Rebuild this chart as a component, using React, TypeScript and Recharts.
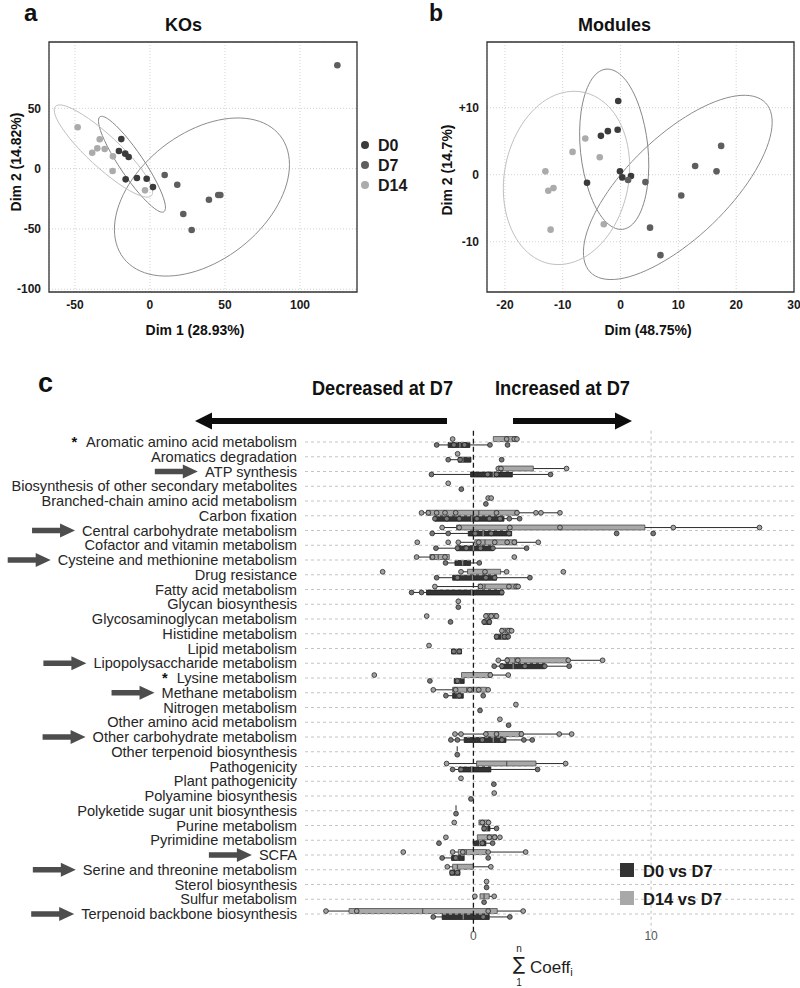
import React from 'react';
import {
  ComposedChart,
  Scatter,
  Line,
  XAxis,
  YAxis,
  CartesianGrid,
  ReferenceArea,
  ReferenceLine,
  Legend,
} from 'recharts';

const FONT = '"Liberation Sans", Arial, Helvetica, sans-serif';
const NARROW = '"Liberation Sans Narrow", "Arial Narrow", "Liberation Sans", Arial, sans-serif';

// ---------- shared groups ----------
const groupNames = ['D0', 'D7', 'D14'];
const groupColors = ['#3b3b3b', '#5e5e5e', '#ababab'];
const ellipseColors = ['#878787', '#8c8c8c', '#c0c0c0'];

// ---------- panel a : KOs ----------
const koXTicks = [-50, 0, 50, 100];
const koYTicks = [-100, -50, 0, 50];
const koD0 = [
  { x: -19.1, y: 24.5 }, { x: -20.7, y: 14.6 }, { x: -16.5, y: 12.4 }, { x: -14.2, y: 9.6 },
  { x: -16.2, y: -8.9 }, { x: -8.7, y: -7.8 }, { x: -2.2, y: -8.4 }, { x: 2.0, y: -15.3 },
];
const koD7 = [
  { x: 9.8, y: -5.3 }, { x: 18.2, y: -13.4 }, { x: 22.2, y: -37.6 }, { x: 27.8, y: -50.9 },
  { x: 39.3, y: -25.8 }, { x: 45.5, y: -21.9 }, { x: 46.9, y: -21.9 }, { x: 124.9, y: 85.7 },
];
const koD14 = [
  { x: -48.2, y: 34.3 }, { x: -33.5, y: 24.4 }, { x: -38.5, y: 13.2 }, { x: -35.1, y: 16.8 },
  { x: -30.2, y: 16.3 }, { x: -24.7, y: 10.2 }, { x: -24.9, y: -2.0 }, { x: -3.3, y: -18.0 },
];
const koEllipseD0 = [
  { x: 10.3, y: -37.6 }, { x: 3.9, y: -34.9 }, { x: -6.8, y: -22.0 }, { x: -18.9, y: -2.2 },
  { x: -29.2, y: 19.2 }, { x: -34.8, y: 36.4 }, { x: -34.3, y: 44.9 }, { x: -27.9, y: 42.2 },
  { x: -17.2, y: 29.3 }, { x: -5.1, y: 9.5 }, { x: 5.2, y: -11.9 }, { x: 10.8, y: -29.1 },
];
const koEllipseD7 = [
  { x: 89.3, y: 29.6 }, { x: 95.6, y: 0.7 }, { x: 85.6, y: -34.6 }, { x: 62.0, y: -67.0 },
  { x: 31.0, y: -87.7 }, { x: 1.0, y: -91.3 }, { x: -20.0, y: -76.7 }, { x: -26.3, y: -47.8 },
  { x: -16.3, y: -12.5 }, { x: 7.4, y: 19.9 }, { x: 38.3, y: 40.6 }, { x: 68.3, y: 44.2 },
];
const koEllipseD14 = [
  { x: 2.5, y: -24.1 }, { x: -5.7, y: -24.0 }, { x: -20.7, y: -13.5 }, { x: -38.5, y: 4.5 },
  { x: -54.3, y: 25.2 }, { x: -63.8, y: 43.0 }, { x: -64.5, y: 53.3 }, { x: -56.3, y: 53.2 },
  { x: -41.3, y: 42.7 }, { x: -23.5, y: 24.7 }, { x: -7.7, y: 4.0 }, { x: 1.8, y: -13.8 },
];

// ---------- panel b : Modules ----------
const modXTicks = [-20, -10, 0, 10, 20, 30];
const modYTicks = [-10, 0, 10];
const modD0 = [
  { x: -0.4, y: 11.0 }, { x: -3.4, y: 5.8 }, { x: -2.2, y: 6.5 }, { x: -0.5, y: 6.7 },
  { x: -0.1, y: 0.5 }, { x: 0.3, y: -0.4 }, { x: 1.8, y: -0.2 }, { x: -5.8, y: -1.2 },
];
const modD7 = [
  { x: 1.3, y: -0.8 }, { x: 4.3, y: -1.1 }, { x: 5.1, y: -7.9 }, { x: 6.9, y: -12.0 },
  { x: 10.5, y: -3.1 }, { x: 12.9, y: 1.3 }, { x: 16.6, y: 0.5 }, { x: 17.4, y: 4.3 },
];
const modD14 = [
  { x: -6.1, y: 5.4 }, { x: -8.3, y: 3.4 }, { x: -3.6, y: 2.6 }, { x: -13.0, y: 0.5 },
  { x: -12.5, y: -2.4 }, { x: -11.6, y: -2.0 }, { x: -12.1, y: -8.2 }, { x: -2.9, y: -7.4 },
];
const modEllipseD0 = [
  { x: -2.6, y: 16.3 }, { x: 0.7, y: 14.9 }, { x: 3.4, y: 10.5 }, { x: 5.0, y: 4.3 },
  { x: 4.9, y: -2.0 }, { x: 3.2, y: -6.8 }, { x: 0.4, y: -8.7 }, { x: -2.9, y: -7.3 },
  { x: -5.6, y: -2.9 }, { x: -7.2, y: 3.3 }, { x: -7.1, y: 9.6 }, { x: -5.4, y: 14.4 },
];
const modEllipseD7 = [
  { x: 25.8, y: 11.3 }, { x: 26.8, y: 6.7 }, { x: 23.3, y: -0.2 }, { x: 16.2, y: -7.6 },
  { x: 7.4, y: -13.4 }, { x: -0.7, y: -16.2 }, { x: -6.0, y: -15.1 }, { x: -7.0, y: -10.4 },
  { x: -3.5, y: -3.5 }, { x: 3.6, y: 3.9 }, { x: 12.4, y: 9.7 }, { x: 20.5, y: 12.4 },
];
const modEllipseD14 = [
  { x: -6.4, y: 12.9 }, { x: -1.2, y: 10.2 }, { x: 1.7, y: 4.6 }, { x: 1.7, y: -2.3 },
  { x: -1.3, y: -8.8 }, { x: -6.4, y: -13.0 }, { x: -12.4, y: -13.9 }, { x: -17.5, y: -11.1 },
  { x: -20.4, y: -5.5 }, { x: -20.4, y: 1.4 }, { x: -17.4, y: 7.9 }, { x: -12.3, y: 12.1 },
];

// ---------- panel c : pathways ----------
const categories = [
  'Aromatic amino acid metabolism',
  'Aromatics degradation',
  'ATP synthesis',
  'Biosynthesis of other secondary metabolites',
  'Branched-chain amino acid metabolism',
  'Carbon fixation',
  'Central carbohydrate metabolism',
  'Cofactor and vitamin metabolism',
  'Cysteine and methionine metabolism',
  'Drug resistance',
  'Fatty acid metabolism',
  'Glycan biosynthesis',
  'Glycosaminoglycan metabolism',
  'Histidine metabolism',
  'Lipid metabolism',
  'Lipopolysaccharide metabolism',
  'Lysine metabolism',
  'Methane metabolism',
  'Nitrogen metabolism',
  'Other amino acid metabolism',
  'Other carbohydrate metabolism',
  'Other terpenoid biosynthesis',
  'Pathogenicity',
  'Plant pathogenicity',
  'Polyamine biosynthesis',
  'Polyketide sugar unit biosynthesis',
  'Purine metabolism',
  'Pyrimidine metabolism',
  'SCFA',
  'Serine and threonine metabolism',
  'Sterol biosynthesis',
  'Sulfur metabolism',
  'Terpenoid backbone biosynthesis',
];
const arrowRows = [2, 6, 8, 15, 17, 20, 28, 29, 32];
const starRows = [0, 16];
const coeffTicks = [0, 10];
const coeffGrid = [10];
const seriesNames = ['D0 vs D7', 'D14 vs D7'];

// D14 vs D7 (light)
const d14Min = [1.12, null, 1.4, null, null, -2.92, -1.76, -0.85, -3.2, -0.7, -2.17, -0.85, 0.65, 1.53, null, 1.4, -0.67, -2.26, null, null, -1.04, -0.91, -1.51, null, null, -0.98, 0.31, 0.22, -1.17, -1.47, null, 0.37, -8.3];
const d14Q1 = [1.12, null, 1.4, null, null, -2.64, -0.95, 0.08, -2.45, -0.33, 0.27, -0.85, 0.65, 1.53, null, 1.83, -0.67, -1.17, null, null, 0.65, -0.91, 0.18, null, null, -0.98, 0.31, 0.22, -0.85, -1.17, null, 0.37, -7.0];
const d14Median = [1.87, null, 1.59, null, null, 0.3, 2.05, 0.65, -1.98, 0.7, 0.65, -0.85, 0.9, 1.8, null, 2.34, 0.95, -0.38, null, null, 1.4, -0.91, 1.87, null, null, -0.98, 0.6, 0.8, -0.4, -0.9, null, 0.6, -2.86];
const d14Q3 = [2.45, null, 3.37, null, null, 2.52, 9.65, 2.43, -1.36, 1.53, 2.52, -0.85, 1.35, 2.15, null, 5.34, 1.02, 0.74, null, null, 2.77, -0.91, 3.52, null, null, -0.98, 0.89, 1.3, 0.74, 0.0, null, 0.89, 1.34];
const d14Max = [2.45, null, 5.24, null, null, 4.87, 16.1, 3.65, -1.36, 1.87, 2.52, -0.85, 1.35, 2.15, null, 7.27, 1.96, 0.83, null, null, 5.53, -0.91, 5.19, null, null, -0.98, 0.89, 1.49, 2.94, 0.98, null, 1.17, 2.8];
const d14Points = [
  [-1.17, 1.87, 2.3, 2.45], [-0.89], [1.4, 1.55, 5.24], [-1.42], [0.83, 1.0],
  [-2.92, -2.54, -2.07, -1.6, -1.0, 1.3, 2.45, 3.52, 3.8, 4.87],
  [-1.76, -0.8, 2.05, 4.87, 11.25, 16.1],
  [-3.16, -1.42, -0.85, 0.3, 1.2, 1.9, 2.3, 3.65],
  [-3.2, -2.3, -1.6, 2.3], [-5.11, -0.7, 0.65, 1.87, 5.06], [-2.17, 0.4, 2.0, 2.4, 2.52],
  [-0.85], [-2.63, 0.7, 1.0, 1.3], [1.6, 2.0, 2.15], [-2.5], [1.4, 1.9, 2.5, 5.34, 7.27],
  [-5.58, 0.95, 1.96], [-2.26, -1.0, -0.2, 0.3, 0.83], [2.39], [1.49],
  [-1.04, -0.7, 0.7, 1.3, 2.7, 4.83, 5.53], [], [-1.51, 5.19], [-0.7], [1.17], [],
  [-1.08, 0.5, 0.85], [-1.55, 0.9, 1.2, 1.49], [-3.95, -1.17, -0.6, 0.83, 2.94],
  [-1.47, 0.98], [0.74], [0.08, 1.17], [-8.3, -6.57, 0.83, 2.8],
];

// D0 vs D7 (dark)
const d0Min = [-2.07, -1.42, -2.36, null, null, -2.17, -2.32, -2.11, -1.57, -2.07, -3.48, null, 0.55, 1.21, -1.23, 1.17, -1.08, -1.55, null, null, -1.27, null, -1.17, null, null, null, 0.5, -0.01, -1.76, -1.32, null, null, -2.26];
const d0Q1 = [-1.42, -0.85, -0.16, null, null, -2.17, -0.29, -0.95, -1.04, -1.17, -2.64, null, 0.55, 1.21, -1.23, 1.53, -1.08, -1.17, null, null, -0.52, null, -0.82, null, null, null, 0.5, -0.01, -1.23, -1.32, null, null, -1.76];
const d0Median = [-0.76, -0.6, 1.12, null, null, -0.1, 0.55, 0.0, -0.61, -0.05, -0.1, null, 0.7, 1.6, -0.95, 2.24, -0.8, -0.9, null, null, 1.12, null, -0.1, null, null, null, 0.75, 0.35, -0.9, -1.0, null, null, -0.57];
const d0Q3 = [-0.2, -0.14, 2.19, null, null, 1.72, 2.15, 1.12, -0.16, 1.3, 1.68, null, 0.98, 1.96, -0.67, 4.02, -0.52, -0.57, null, null, 1.83, null, 0.98, null, null, null, 0.93, 0.7, -0.52, -0.76, null, null, 0.89];
const d0Max = [0.93, -0.14, 4.34, null, null, 2.6, 2.15, 2.99, 0.33, 3.18, 1.68, null, 0.98, 1.96, -0.67, 5.39, -0.52, -0.57, null, null, 3.31, null, 3.61, null, null, null, 1.3, 1.08, -0.52, -0.76, null, null, 2.05];
const d0Points = [
  [-2.07, -1.1, -0.5, 0.93, 1.92], [-1.42, -0.75, 1.59], [-2.36, 0.8, 1.3, 4.34], [-0.68], [0.7],
  [-2.17, -1.5, -0.8, 0.2, 0.9, 1.5, 2.02, 2.6],
  [-2.32, -1.42, 0.1, 1.0, 2.0, 8.06, 10.12],
  [-2.11, -0.9, -0.4, 0.4, 1.1, 2.99],
  [-1.57, 0.33], [-2.07, -0.9, 0.7, 1.2, 3.18], [-3.48, -2.92, 1.6],
  [-0.85], [-1.29, 0.6, 0.9], [1.3, 1.75, 1.96], [-1.1, -0.8], [1.17, 1.6, 2.9, 4.02, 5.39],
  [-2.45, -0.9], [-1.55, -0.8, 0.55], [0.37], [1.98],
  [-1.27, -0.9, 0.5, 1.6, 2.84, 3.31], [-0.91], [-1.17, -0.7, 3.61], [1.15], [-0.14], [-0.98],
  [0.6, 1.3], [-1.94, 0.5, 1.08], [-1.76, -1.0, 0.83], [-1.2, -0.9], [0.74], [0.6],
  [-2.26, 0.55, 2.05],
];

// ---------- helpers ----------
const TICK_STYLE = { fill: '#1a1a1a', fontSize: 12, fontWeight: 700, fontFamily: FONT };
const LABEL_SIZE = 14.6;
const rowTicks = categories.map((_, i) => i);
const LIGHT_OFF = -0.2;
const DARK_OFF = 0.2;
const HALF_BOX = 0.17;

let measureCtx: CanvasRenderingContext2D | null = null;
function textWidth(s: string): number {
  if (typeof document === 'undefined') return s.length * 7.4;
  if (!measureCtx) measureCtx = document.createElement('canvas').getContext('2d');
  if (!measureCtx) return s.length * 7.4;
  measureCtx.font = `${LABEL_SIZE}px "Liberation Sans", Arial, sans-serif`;
  return measureCtx.measureText(s).width;
}

const dot = (color: string, r: number) => (p: any) =>
  p.cx == null ? <g /> : <circle cx={p.cx} cy={p.cy} r={r} fill={color} />;

const boxPoint = (color: string) => (p: any) =>
  p.cx == null ? <g /> : (
    <circle cx={p.cx} cy={p.cy} r={2.4} fill={color} stroke="#262626" strokeWidth={0.8} />
  );

function RowArrow({ tip, y }: { tip: number; y: number }) {
  const len = 43;
  const head = 15;
  const hh = 7;
  const sh = 2.8;
  const pts = [
    [tip - len, y - sh], [tip - head, y - sh], [tip - head, y - hh], [tip, y],
    [tip - head, y + hh], [tip - head, y + sh], [tip - len, y + sh],
  ].map((p) => p.join(',')).join(' ');
  return <polygon points={pts} fill="#4d4d4d" />;
}

function CategoryTick(props: any) {
  const { x, y, payload } = props;
  const i = payload ? payload.value : -1;
  const label = categories[i];
  if (label === undefined) return null;
  const w = textWidth(label);
  const start = x - w;
  const starred = starRows.includes(i);
  return (
    <g>
      <text x={x} y={y} dy="0.35em" textAnchor="end" fontSize={LABEL_SIZE} fill="#262626" fontFamily={FONT}>
        {starred && <tspan fontWeight={700} fill="#111">*</tspan>}
        {starred ? <tspan dx={9}>{label}</tspan> : label}
      </text>
      {arrowRows.includes(i) && <RowArrow tip={start - 7} y={y} />}
    </g>
  );
}

function SumLabel() {
  return (
    <g fill="#1e1e1e">
      <text x={519} y={590} textAnchor="middle" fontSize={18} fontFamily='"DejaVu Sans", sans-serif'>∑</text>
      <text x={519} y={572} textAnchor="middle" fontSize={10} fontFamily={FONT}>n</text>
      <text x={519} y={606} textAnchor="middle" fontSize={10} fontFamily={FONT}>1</text>
      <text x={530} y={593} fontSize={17} fontFamily={FONT}>
        Coeff<tspan fontSize={11} dy={3}>i</tspan>
      </text>
    </g>
  );
}

function rowIdx() {
  return categories.map((_, i) => i);
}

function renderBoxes(
  mins: (number | null)[], q1s: (number | null)[], meds: (number | null)[],
  q3s: (number | null)[], maxs: (number | null)[],
  off: number, fill: string, stroke: string, medColor: string, tag: string,
) {
  const out: React.ReactElement[] = [];
  rowIdx().forEach((i) => {
    const q1 = q1s[i];
    const q3 = q3s[i];
    const md = meds[i];
    const lo = mins[i];
    const hi = maxs[i];
    if (q1 === null || q3 === null || md === null || lo === null || hi === null) return;
    const y = i + off;
    if (lo < q1) {
      out.push(
        <ReferenceLine key={`${tag}wl${i}`} segment={[{ x: lo, y }, { x: q1, y }]} stroke="#2c2c2c" strokeWidth={1} ifOverflow="visible" />,
      );
    }
    if (hi > q3) {
      out.push(
        <ReferenceLine key={`${tag}wh${i}`} segment={[{ x: q3, y }, { x: hi, y }]} stroke="#2c2c2c" strokeWidth={1} ifOverflow="visible" />,
      );
    }
    out.push(
      <ReferenceArea key={`${tag}b${i}`} x1={q1} x2={q3} y1={y - HALF_BOX} y2={y + HALF_BOX} fill={fill} fillOpacity={1} stroke={stroke} strokeWidth={0.8} ifOverflow="visible" />,
    );
    out.push(
      <ReferenceLine key={`${tag}m${i}`} segment={[{ x: md, y: y - HALF_BOX }, { x: md, y: y + HALF_BOX }]} stroke={medColor} strokeWidth={1.3} ifOverflow="visible" />,
    );
  });
  return out;
}

const d14PointData = d14Points.flatMap((xs, i) => xs.map((x) => ({ x, y: i + LIGHT_OFF })));
const d0PointData = d0Points.flatMap((xs, i) => xs.map((x) => ({ x, y: i + DARK_OFF })));

// ---------- legends ----------
function GroupLegend() {
  return (
    <svg width={64} height={66} style={{ overflow: 'visible' }}>
      {groupNames.map((g, k) => (
        <g key={g}>
          <circle cx={9} cy={12 + k * 20} r={4} fill={groupColors[k]} />
          <text x={22} y={18 + k * 20} fontSize={16} fontWeight={700} fill="#1a1a1a" fontFamily={FONT}>
            {g}
          </text>
        </g>
      ))}
    </svg>
  );
}

function SeriesLegend() {
  const fills = ['#333333', '#a8a8a8'];
  return (
    <svg width={150} height={56} style={{ overflow: 'visible' }}>
      {seriesNames.map((s, k) => (
        <g key={s}>
          <rect x={4} y={5 + k * 28} width={14} height={14} fill={fills[k]} />
          <text x={27} y={18.5 + k * 28} fontSize={16.5} fontWeight={700} fill="#1a1a1a" fontFamily={FONT}>
            {s}
          </text>
        </g>
      ))}
    </svg>
  );
}

// ---------- panels ----------
function PcaPanel(props: {
  width: number; yAxisWidth: number; right: number;
  xDomain: [number, number]; yDomain: [number, number];
  xTicks: number[]; yTicks: number[]; yFmt?: (v: number) => string;
  groups: { x: number; y: number }[][]; ellipses: { x: number; y: number }[][];
  legend?: boolean;
}) {
  const { width, yAxisWidth, right, xDomain, yDomain, xTicks, yTicks, yFmt, groups, ellipses, legend } = props;
  return (
    <ComposedChart width={width} height={340} margin={{ top: 42, right, bottom: 0, left: 0 }}>
      <CartesianGrid stroke="#d2d2d2" strokeDasharray="1 2" />
      <XAxis type="number" dataKey="x" domain={xDomain} ticks={xTicks} allowDataOverflow interval={0}
        axisLine={false} tickLine={false} height={48} tick={TICK_STYLE} />
      <YAxis type="number" dataKey="y" domain={yDomain} ticks={yTicks} allowDataOverflow interval={0}
        axisLine={false} tickLine={false} width={yAxisWidth} tick={TICK_STYLE} tickFormatter={yFmt} />
      <ReferenceArea x1={xDomain[0]} x2={xDomain[1]} y1={yDomain[0]} y2={yDomain[1]} fill="none"
        stroke="#333" strokeWidth={1.3} ifOverflow="visible" />
      {ellipses.map((e, k) => (
        <Line key={`e${k}`} data={e} dataKey="y" type="basisClosed" stroke={ellipseColors[k]} strokeWidth={1}
          dot={false} activeDot={false} isAnimationActive={false} legendType="none" />
      ))}
      {groups.map((g, k) => (
        <Scatter key={`g${k}`} name={groupNames[k]} data={g} shape={dot(groupColors[k], 3.3)} isAnimationActive={false} />
      ))}
      {legend && (
        <Legend layout="vertical" align="center" verticalAlign="middle" content={() => <GroupLegend />}
          wrapperStyle={{ left: 356, top: 133, width: 64, height: 66 }} />
      )}
    </ComposedChart>
  );
}

function PanelC() {
  return (
    <ComposedChart width={800} height={608} margin={{ top: 50.2, right: 5, bottom: 0, left: 0 }}>
      <XAxis type="number" dataKey="x" domain={[-9.48, 18.1]} ticks={coeffTicks} allowDataOverflow interval={0}
        axisLine={false} tickLine={false} tickSize={0} tickMargin={0} height={56.3}
        tick={{ fill: '#555555', fontSize: 12, fontFamily: FONT }} label={<SumLabel />} />
      <YAxis type="number" dataKey="y" domain={[-0.8, 33.2]} reversed ticks={rowTicks} interval={0} allowDataOverflow
        axisLine={false} tickLine={false} width={305} tick={<CategoryTick />} />
      {rowTicks.map((i) => (
        <ReferenceLine key={`row${i}`} y={i} stroke="#c4c4c4" strokeDasharray="3 3" strokeWidth={1} />
      ))}
      {coeffGrid.map((v) => (
        <ReferenceLine key={`vg${v}`} x={v} stroke="#c0c0c0" strokeDasharray="3 3" strokeWidth={1} />
      ))}
      <ReferenceLine x={0} stroke="#1a1a1a" strokeDasharray="5 3" strokeWidth={1.3} />
      {renderBoxes(d14Min, d14Q1, d14Median, d14Q3, d14Max, LIGHT_OFF, '#a8a8a8', '#4a4a4a', '#5a5a5a', 'l')}
      {renderBoxes(d0Min, d0Q1, d0Median, d0Q3, d0Max, DARK_OFF, '#333333', '#1c1c1c', '#8a8a8a', 'd')}
      <Scatter name="D14 vs D7" data={d14PointData} shape={boxPoint('#a2a2a2')} isAnimationActive={false} />
      <Scatter name="D0 vs D7" data={d0PointData} shape={boxPoint('#767676')} isAnimationActive={false} />
      <Legend layout="vertical" align="center" verticalAlign="middle" content={() => <SeriesLegend />}
        wrapperStyle={{ left: 616, top: 478, width: 150, height: 56 }} />
    </ComposedChart>
  );
}

function BigArrow({ from, to, y }: { from: number; to: number; y: number }) {
  const dir = to > from ? 1 : -1;
  const head = 17;
  const hh = 8.5;
  const sh = 3;
  const base = to - dir * head;
  const pts = [
    [from, y - sh], [base, y - sh], [base, y - hh], [to, y], [base, y + hh], [base, y + sh], [from, y + sh],
  ].map((p) => p.join(',')).join(' ');
  return <polygon points={pts} fill="#0d0d0d" />;
}

export default function App() {
  return (
    <div style={{ position: 'absolute', left: 0, top: 0, width: 800, height: 988, background: '#fff', overflow: 'hidden', fontFamily: FONT }}>
      <div style={{ position: 'absolute', left: 0, top: 0 }}>
        <PcaPanel width={420} yAxisWidth={49} right={63} xDomain={[-67.3, 138]} yDomain={[-102.3, 105]}
          xTicks={koXTicks} yTicks={koYTicks} groups={[koD0, koD7, koD14]}
          ellipses={[koEllipseD0, koEllipseD7, koEllipseD14]} legend />
      </div>
      <div style={{ position: 'absolute', left: 400, top: 0 }}>
        <PcaPanel width={400} yAxisWidth={87} right={6} xDomain={[-23.1, 30]} yDomain={[-17.5, 19.8]}
          xTicks={modXTicks} yTicks={modYTicks} yFmt={(v: number) => (v > 0 ? `+${v}` : `${v}`)}
          groups={[modD0, modD7, modD14]} ellipses={[modEllipseD0, modEllipseD7, modEllipseD14]} />
      </div>
      <div style={{ position: 'absolute', left: 0, top: 380 }}>
        <PanelC />
      </div>
      <svg width={800} height={988} style={{ position: 'absolute', left: 0, top: 0, pointerEvents: 'none' }}>
        <g fill="#111" fontFamily={FONT} fontWeight={700}>
          <text x={24} y={21} fontSize={24}>a</text>
          <text x={429} y={21} fontSize={23}>b</text>
          <text x={38} y={392} fontSize={27}>c</text>
          <text x={183.5} y={31} fontSize={18} textAnchor="middle">KOs</text>
          <text x={614.5} y={31} fontSize={18} textAnchor="middle">Modules</text>
          <text x={195} y={335} fontSize={14} textAnchor="middle">Dim 1 (28.93%)</text>
          <text x={648} y={335} fontSize={14} textAnchor="middle">Dim (48.75%)</text>
          <text transform="translate(21,162) rotate(-90)" fontSize={14} textAnchor="middle">Dim 2 (14.82%)</text>
          <text transform="translate(452,170) rotate(-90)" fontSize={14} textAnchor="middle">Dim 2 (14.7%)</text>
          <text x={312} y={395} fontSize={20} fontFamily={NARROW} textLength={141} lengthAdjust="spacingAndGlyphs">Decreased at D7</text>
          <text x={495} y={395} fontSize={20} fontFamily={NARROW} textLength={135} lengthAdjust="spacingAndGlyphs">Increased at D7</text>
        </g>
        <BigArrow from={447} to={195} y={421} />
        <BigArrow from={513} to={632} y={421} />
      </svg>
    </div>
  );
}
